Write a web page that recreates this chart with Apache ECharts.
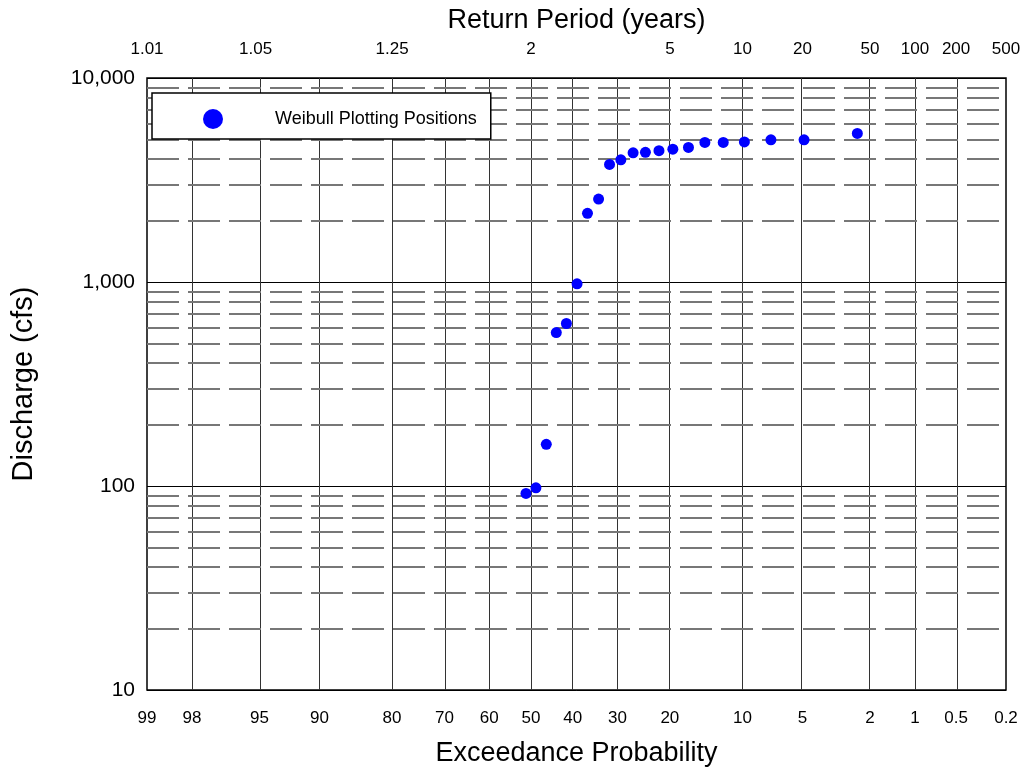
<!DOCTYPE html>
<html>
<head>
<meta charset="utf-8">
<script src="https://cdn.jsdelivr.net/npm/echarts@6/dist/echarts.min.js"></script>
<style>
  html, body { margin: 0; padding: 0; background: #fff; }
  #chart { width: 1026px; height: 772px; }
</style>
</head>
<body>
<div id="chart"></div>
<script>
// exceedance probability ticks (%) on the bottom axis
const probTicks = [99, 98, 95, 90, 80, 70, 60, 50, 40, 30, 20, 10, 5, 2, 1, 0.5, 0.2];
// return period ticks (years) on the top axis
const returnTicks = [1.01, 1.05, 1.25, 2, 5, 10, 20, 50, 100, 200, 500];
// dashed minor gridlines on the log axis
const minorLevels = [20, 30, 40, 50, 60, 70, 80, 90,
  200, 300, 400, 500, 600, 700, 800, 900,
  2000, 3000, 4000, 5000, 6000, 7000, 8000, 9000];

// Weibull plotting positions
const exceedance = [2.4, 4.9, 7.3, 9.8, 12.2, 14.6, 17.0, 19.5, 21.9, 24.4, 26.8,
  29.3, 31.7, 34.1, 36.6, 39.0, 41.5, 43.9, 46.3, 48.8, 51.2];
const discharge = [5350, 4980, 4980, 4860, 4830, 4830, 4570, 4480, 4400, 4320, 4300,
  3970, 3770, 2550, 2170, 980, 626, 565, 160, 98, 92];

// inverse normal cdf (Acklam)
function qnorm(p) {
  const a = [-3.969683028665376e+01, 2.209460984245205e+02, -2.759285104469687e+02,
    1.383577518672690e+02, -3.066479806614716e+01, 2.506628277459239e+00];
  const b = [-5.447609879822406e+01, 1.615858368580409e+02, -1.556989798598866e+02,
    6.680131188771972e+01, -1.328068155288572e+01];
  const c = [-7.784894002430293e-03, -3.223964580411365e-01, -2.400758277161838e+00,
    -2.549732539343734e+00, 4.374664141464968e+00, 2.938163982698783e+00];
  const d = [7.784695709041462e-03, 3.224671290700398e-01, 2.445134137142996e+00,
    3.754408661907416e+00];
  const pl = 0.02425;
  let q, r;
  if (p < pl) {
    q = Math.sqrt(-2 * Math.log(p));
    return (((((c[0]*q+c[1])*q+c[2])*q+c[3])*q+c[4])*q+c[5]) / ((((d[0]*q+d[1])*q+d[2])*q+d[3])*q+1);
  }
  if (p > 1 - pl) {
    q = Math.sqrt(-2 * Math.log(1 - p));
    return -(((((c[0]*q+c[1])*q+c[2])*q+c[3])*q+c[4])*q+c[5]) / ((((d[0]*q+d[1])*q+d[2])*q+d[3])*q+1);
  }
  q = p - 0.5; r = q * q;
  return (((((a[0]*r+a[1])*r+a[2])*r+a[3])*r+a[4])*r+a[5])*q / (((((b[0]*r+b[1])*r+b[2])*r+b[3])*r+b[4])*r+1);
}
const zOf = pct => qnorm(1 - pct / 100);

const xMin = zOf(99);
const xMax = zOf(0.2);
const clampZ = z => Math.min(xMax, Math.max(xMin, z));

const probZ = probTicks.map(zOf);
const returnZ = returnTicks.map(t => clampZ(zOf(100 / t)));

function nearest(list, zs, v) {
  let best = 0;
  zs.forEach((z, i) => { if (Math.abs(z - v) < Math.abs(zs[best] - v)) best = i; });
  return list[best];
}

const FONT = '"Liberation Sans", Arial, sans-serif';

const points = exceedance.map((p, i) => [zOf(p), discharge[i]]);

const gridData = [];
probZ.slice(1, -1).forEach(z => gridData.push({ xAxis: z, lineStyle: { color: '#333', width: 1, type: 'solid' } }));
minorLevels.forEach(v => gridData.push({ yAxis: v, lineStyle: { color: '#777', width: 2, type: [32, 9] } }));

const chart = echarts.init(document.getElementById('chart'));
chart.setOption({
  animation: false,
  backgroundColor: '#fff',
  textStyle: { fontFamily: FONT },
  grid: {
    left: 147, right: 20, top: 78, bottom: 81,
    show: true, borderColor: '#000', borderWidth: 1.5
  },
  legend: {
    data: ['Weibull Plotting Positions'],
    left: 152, top: 93, z: 10,
    orient: 'vertical',
    icon: 'circle',
    itemWidth: 20, itemHeight: 20,
    padding: [16, 14, 10, 51],
    backgroundColor: '#fff',
    borderColor: '#000', borderWidth: 1.5,
    textStyle: { fontSize: 18, color: '#000', fontFamily: FONT, padding: [0, 0, 0, 47] }
  },
  xAxis: [
    {
      type: 'value', position: 'bottom',
      min: xMin, max: xMax,
      name: 'Exceedance Probability', nameLocation: 'middle', nameGap: 50,
      nameTextStyle: { fontSize: 27, color: '#000', fontFamily: FONT },
      axisLine: { show: false }, axisTick: { show: false }, splitLine: { show: false },
      axisLabel: {
        customValues: probZ, fontSize: 17, color: '#000', margin: 20,
        formatter: v => String(nearest(probTicks, probZ, v))
      }
    },
    {
      type: 'value', position: 'top',
      min: xMin, max: xMax,
      name: 'Return Period (years)', nameLocation: 'middle', nameGap: 44,
      nameTextStyle: { fontSize: 27, color: '#000', fontFamily: FONT },
      axisLine: { show: false }, axisTick: { show: false }, splitLine: { show: false },
      axisLabel: {
        customValues: returnZ, fontSize: 17, color: '#000', margin: 20,
        formatter: v => String(nearest(returnTicks, returnZ, v))
      }
    }
  ],
  yAxis: {
    type: 'log', logBase: 10, min: 10, max: 10000,
    name: 'Discharge (cfs)', nameLocation: 'middle', nameGap: 109,
    nameTextStyle: { fontSize: 29, color: '#000', fontFamily: FONT },
    axisLine: { show: false }, axisTick: { show: false },
    splitLine: { show: true, lineStyle: { color: '#000', width: 1 } },
    axisLabel: {
      fontSize: 21, color: '#000', margin: 12,
      formatter: v => Number(v).toLocaleString('en-US')
    }
  },
  series: [
    {
      name: 'grid', type: 'scatter', data: [], z: 1, silent: true,
      markLine: { z: 1, silent: true, symbol: ['none', 'none'], label: { show: false }, data: gridData }
    },
    {
      name: 'Weibull Plotting Positions', type: 'scatter', z: 5,
      symbol: 'circle', symbolSize: 11,
      itemStyle: { color: '#0000ff', opacity: 1 },
      data: points
    }
  ]
});
</script>
</body>
</html>
